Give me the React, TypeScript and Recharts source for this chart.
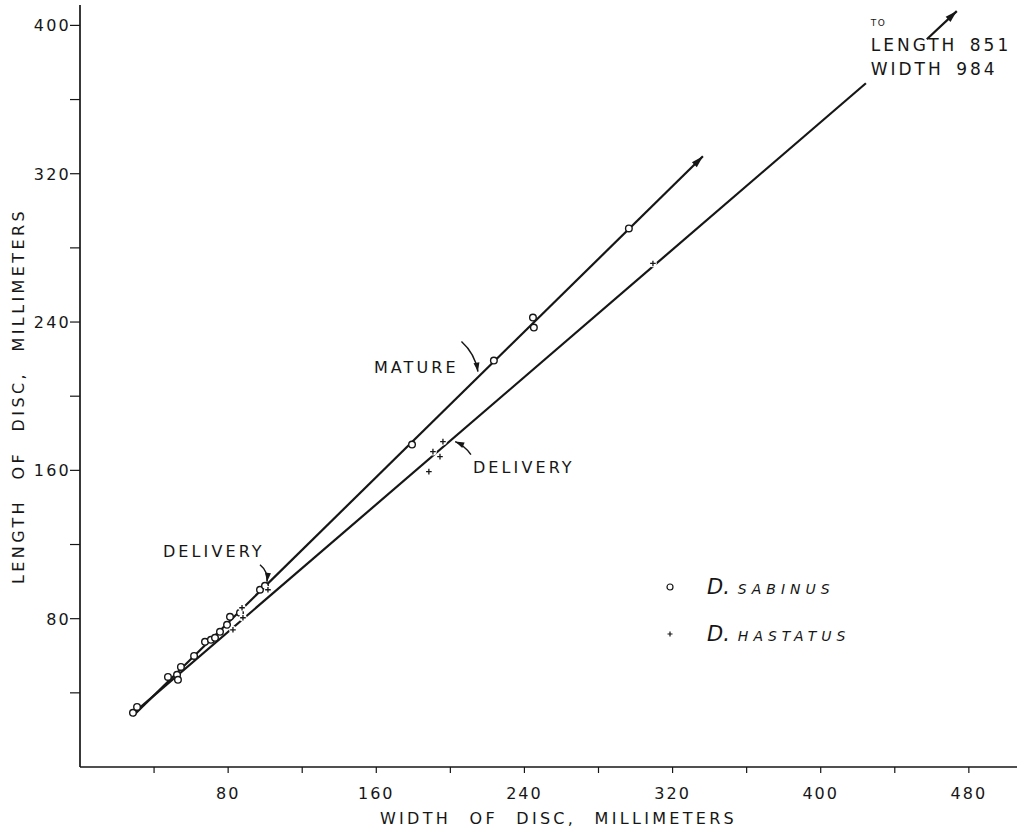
import React from 'react';
import { ScatterChart, Scatter, XAxis, YAxis, Legend } from 'recharts';

// axis ticks (labels only on multiples of 80)
const X_TICKS = [40, 80, 120, 160, 200, 240, 280, 320, 360, 400, 440, 480];
const Y_TICKS = [40, 80, 120, 160, 200, 240, 280, 320, 360, 400];

// D. sabinus (open circles)
const SABINUS_WIDTH = [28.6, 30.8, 47.5, 52.4, 52.9, 54.5, 61.6, 67.5, 70.7, 72.9, 75.6, 79.4, 81.0, 86.4, 97.2, 99.9, 179.3, 223.5, 244.6, 245.1, 296.4];
const SABINUS_LENGTH = [29.2, 32.4, 48.6, 49.7, 47.0, 54.0, 59.9, 67.5, 68.6, 69.7, 72.9, 76.7, 81.0, 83.2, 95.6, 97.7, 173.9, 219.2, 242.4, 237.0, 290.5];

// D. hastatus (crosses)
const HASTATUS_WIDTH = [82.6, 87.5, 88.0, 101.5, 188.4, 190.6, 194.4, 196.0, 309.4];
const HASTATUS_LENGTH = [74.0, 85.9, 80.5, 95.6, 159.3, 170.1, 167.4, 175.5, 271.6];

// fitted lines
const SABINUS_FIT_WIDTH = [28.6, 336.4];
const SABINUS_FIT_LENGTH = [27.5, 329.4];
const HASTATUS_FIT_WIDTH = [29.7, 424.4];
const HASTATUS_FIT_LENGTH = [29.7, 368.8];
const HASTATUS_OUT_WIDTH = [457.3, 473.5];
const HASTATUS_OUT_LENGTH = [392.5, 407.7];

// annotations
const NOTE_TEXT = ['MATURE', 'DELIVERY', 'DELIVERY', 'TO', 'LENGTH 851', 'WIDTH 984'];
const NOTE_WIDTH = [158.7, 212.2, 44.8, 427.0, 427.0, 427.0];
const NOTE_LENGTH = [212.7, 158.7, 113.4, 399.6, 386.0, 373.0];

const ARROW_TAIL_WIDTH = [206.0, 211.1, 97.2];
const ARROW_TAIL_LENGTH = [229.5, 168.5, 109.1];
const ARROW_TIP_WIDTH = [214.9, 202.6, 101.0];
const ARROW_TIP_LENGTH = [213.3, 175.5, 99.9];
const ARROW_BEND = [-6, 3, -5];

const LEGEND_ORDER = ['D. SABINUS', 'D. HASTATUS'];

const X_MAX = 506;
const Y_MAX = 411;
const PLOT_W = 937;
const PLOT_H = 762;
const KX = PLOT_W / X_MAX;
const KY = PLOT_H / Y_MAX;

const INK = '#161616';
const FONT = '"DejaVu Sans", Verdana, sans-serif';

const pairs = (xs: number[], ys: number[]) => xs.map((x, i) => ({ x, y: ys[i] }));

const sabinus = pairs(SABINUS_WIDTH, SABINUS_LENGTH);
const hastatus = pairs(HASTATUS_WIDTH, HASTATUS_LENGTH);
const sabinusFit = pairs(SABINUS_FIT_WIDTH, SABINUS_FIT_LENGTH);
const hastatusFit = pairs(HASTATUS_FIT_WIDTH, HASTATUS_FIT_LENGTH);
const hastatusOut = pairs(HASTATUS_OUT_WIDTH, HASTATUS_OUT_LENGTH);
const notes = NOTE_TEXT.map((text, i) => ({ x: NOTE_WIDTH[i], y: NOTE_LENGTH[i], text }));
const arrows = ARROW_TIP_WIDTH.map((x, i) => ({
	x,
	y: ARROW_TIP_LENGTH[i],
	tailX: ARROW_TAIL_WIDTH[i],
	tailY: ARROW_TAIL_LENGTH[i],
	i,
}));

const headPath = (tx: number, ty: number, angle: number, len = 12, half = 3.5) => {
	const bx = tx - len * Math.cos(angle);
	const by = ty - len * Math.sin(angle);
	const px = -Math.sin(angle) * half;
	const py = Math.cos(angle) * half;
	return `M${tx},${ty}L${bx + px},${by + py}L${bx - px},${by - py}Z`;
};

const CircleMark = (props: any) => (
	<circle cx={props.cx} cy={props.cy} r={3.3} fill="#fff" stroke={INK} strokeWidth={1.4} />
);

const PlusMark = (props: any) => {
	const { cx, cy } = props;
	return (
		<g>
			<circle cx={cx} cy={cy} r={3.8} fill="#fff" />
			<path d={`M${cx - 2.8},${cy}h5.6M${cx},${cy - 2.8}v5.6`} stroke={INK} strokeWidth={1.3} />
		</g>
	);
};

// arrowhead at the far end of a fitted line
const lineEnd = (line: { x: number; y: number }[], withHead: boolean) => (props: any) => {
	const { cx, cy, payload } = props;
	const last = line[line.length - 1];
	if (!withHead || payload.x !== last.x) return <g />;
	const first = line[0];
	const angle = Math.atan2(-(last.y - first.y) * KY, (last.x - first.x) * KX);
	return <path d={headPath(cx, cy, angle)} fill={INK} />;
};

const NoteMark = (props: any) => {
	const { cx, cy, payload } = props;
	const small = payload.text === 'TO';
	const big = payload.text.startsWith('LENGTH') || payload.text.startsWith('WIDTH');
	return (
		<text
			x={cx}
			y={cy}
			fontFamily={FONT}
			fontSize={small ? 9 : big ? 17 : 16}
			letterSpacing={small ? 1.5 : big ? 3 : 3.1}
			wordSpacing={big ? 4 : 0}
			fill={INK}
		>
			{payload.text}
		</text>
	);
};

const ArrowMark = (props: any) => {
	const { cx, cy, payload } = props;
	const sx = cx + (payload.tailX - payload.x) * KX;
	const sy = cy - (payload.tailY - payload.y) * KY;
	const dx = cx - sx;
	const dy = cy - sy;
	const d = Math.hypot(dx, dy) || 1;
	const bend = ARROW_BEND[payload.i];
	const qx = (sx + cx) / 2 + (-dy / d) * bend;
	const qy = (sy + cy) / 2 + (dx / d) * bend;
	const angle = Math.atan2(cy - qy, cx - qx);
	return (
		<g>
			<path d={`M${sx},${sy}Q${qx},${qy} ${cx},${cy}`} fill="none" stroke={INK} strokeWidth={1.5} />
			<path d={headPath(cx, cy, angle, 9, 3)} fill={INK} />
		</g>
	);
};

const XTick = (props: any) => {
	const { x, y, payload } = props;
	if (payload.value % 80 !== 0) return <g />;
	return (
		<text x={x} y={y + 24} textAnchor="middle" fontFamily={FONT} fontSize={16} letterSpacing={2} fill={INK}>
			{payload.value}
		</text>
	);
};

const YTick = (props: any) => {
	const { x, y, payload } = props;
	if (payload.value % 80 !== 0) return <g />;
	return (
		<text x={x + 1} y={y + 6} textAnchor="end" fontFamily={FONT} fontSize={16} letterSpacing={2.2} fill={INK}>
			{payload.value}
		</text>
	);
};

const XTitle = (props: any) => {
	const vb = props.viewBox;
	return (
		<text
			x={vb.x + vb.width / 2 + 10}
			y={vb.y + 57}
			textAnchor="middle"
			fontFamily={FONT}
			fontSize={16}
			letterSpacing={3.3}
			wordSpacing={10}
			fill={INK}
		>
			WIDTH OF DISC, MILLIMETERS
		</text>
	);
};

const YTitle = () => (
	<text
		x={24}
		y={396}
		transform="rotate(-90, 24, 396)"
		textAnchor="middle"
		fontFamily={FONT}
		fontSize={16}
		letterSpacing={3.4}
		wordSpacing={11}
		fill={INK}
	>
		LENGTH OF DISC, MILLIMETERS
	</text>
);

const LegendBox = (props: any) => {
	const items = LEGEND_ORDER.map((name) => (props.payload || []).find((p: any) => p.value === name)).filter(Boolean);
	return (
		<div>
			{items.map((item: any) => {
				const [head, rest] = item.value.split(' ');
				const isCircle = item.value === 'D. SABINUS';
				return (
					<div key={item.value} style={{ display: 'flex', alignItems: 'center', height: 47 }}>
						<svg width={20} height={20} style={{ marginRight: 27 }}>
							{isCircle ? (
								<circle cx={10} cy={10} r={3} fill="#fff" stroke={INK} strokeWidth={1.2} />
							) : (
								<path d="M7.5,10h5M10,7.5v5" stroke={INK} strokeWidth={1.2} />
							)}
						</svg>
						<span style={{ fontFamily: FONT, fontStyle: 'italic', color: INK }}>
							<span style={{ fontSize: 21 }}>{head}</span>
							<span style={{ fontSize: 14, letterSpacing: 5, marginLeft: 8 }}>{rest}</span>
						</span>
					</div>
				);
			})}
		</div>
	);
};

export default function App() {
	return (
		<div style={{ position: 'absolute', left: 0, top: 0, width: 1026, height: 834, background: '#fff' }}>
			<ScatterChart width={1026} height={834} margin={{ top: 5, right: 9, left: 20, bottom: 27 }}>
				<XAxis
					type="number"
					dataKey="x"
					domain={[0, X_MAX]}
					ticks={X_TICKS}
					allowDataOverflow
					height={40}
					tick={<XTick />}
					tickSize={6}
					tickLine={{ stroke: INK, strokeWidth: 1.2 }}
					axisLine={{ stroke: INK, strokeWidth: 1.7 }}
					label={{ content: <XTitle /> }}
				/>
				<YAxis
					type="number"
					dataKey="y"
					domain={[0, Y_MAX]}
					ticks={Y_TICKS}
					allowDataOverflow
					width={60}
					tick={<YTick />}
					tickSize={10}
					tickMargin={0}
					tickLine={{ stroke: INK, strokeWidth: 1.2 }}
					axisLine={{ stroke: INK, strokeWidth: 1.7 }}
					label={{ content: <YTitle /> }}
				/>
				<XAxis
					xAxisId="top"
					orientation="top"
					type="number"
					dataKey="x"
					domain={[0, X_MAX]}
					height={0}
					tick={false}
					tickLine={false}
					axisLine={{ stroke: INK, strokeWidth: 1.3 }}
				/>
				<YAxis
					yAxisId="right"
					orientation="right"
					type="number"
					dataKey="y"
					domain={[0, Y_MAX]}
					width={0}
					tick={false}
					tickLine={false}
					axisLine={{ stroke: INK, strokeWidth: 1.3 }}
				/>
				<Legend
					layout="horizontal"
					verticalAlign="middle"
					align="center"
					content={<LegendBox />}
					wrapperStyle={{ left: 660, top: 563, width: 280, height: 100, bottom: 'auto' }}
				/>
				<Scatter
					name="sabinus fit"
					data={sabinusFit}
					line={{ stroke: INK, strokeWidth: 2.2 }}
					shape={lineEnd(sabinusFit, true)}
					legendType="none"
					isAnimationActive={false}
				/>
				<Scatter
					name="hastatus fit"
					data={hastatusFit}
					line={{ stroke: INK, strokeWidth: 2.2 }}
					shape={lineEnd(hastatusFit, false)}
					legendType="none"
					isAnimationActive={false}
				/>
				<Scatter
					name="hastatus beyond"
					data={hastatusOut}
					line={{ stroke: INK, strokeWidth: 2.2 }}
					shape={lineEnd(hastatusOut, true)}
					legendType="none"
					isAnimationActive={false}
				/>
				<Scatter name="D. SABINUS" data={sabinus} shape={<CircleMark />} fill={INK} isAnimationActive={false} />
				<Scatter name="D. HASTATUS" data={hastatus} shape={<PlusMark />} fill={INK} isAnimationActive={false} />
				<Scatter name="arrows" data={arrows} shape={<ArrowMark />} legendType="none" isAnimationActive={false} />
				<Scatter name="notes" data={notes} shape={<NoteMark />} legendType="none" isAnimationActive={false} />
			</ScatterChart>
		</div>
	);
}
